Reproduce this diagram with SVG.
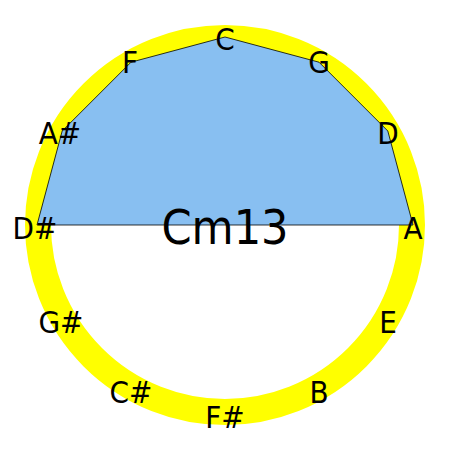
<svg xmlns="http://www.w3.org/2000/svg" width="450" height="450" viewBox="0 0 450 450">
<style>
.note{font-family:"DejaVu Sans Condensed","DejaVu Sans",sans-serif;font-stretch:condensed;font-size:31px;fill:#000;text-anchor:middle}
.title{font-family:"DejaVu Sans Condensed","DejaVu Sans",sans-serif;font-stretch:condensed;font-size:48px;fill:#000;text-anchor:middle}
</style>
<rect width="450" height="450" fill="#fff"/>
<circle id="ring" cx="225" cy="225" r="187" fill="none" stroke="#ffff00" stroke-width="26"/>
<g id="connectors">
<polygon points="225,37 319,62.2 387.8,131 413,225 37,225 62.2,131 131,62.2" fill="#88bff1" stroke="#000" stroke-width="0.8"/>
</g>
<text id="chord" class="title" x="225" y="244">Cm13</text>
<g id="nodes">
<g id="n-C"><text class="note" x="225" y="50">C</text></g>
<g id="n-G"><text class="note" x="319" y="73">G</text></g>
<g id="n-D"><text class="note" x="388" y="144">D</text></g>
<g id="n-A"><text class="note" x="413" y="239">A</text></g>
<g id="n-E"><text class="note" x="388" y="333">E</text></g>
<g id="n-B"><text class="note" x="319" y="403">B</text></g>
<g id="n-Fs"><text class="note" x="225" y="428">F#</text></g>
<g id="n-Cs"><text class="note" x="131" y="403">C#</text></g>
<g id="n-Gs"><text class="note" x="61" y="333">G#</text></g>
<g id="n-Ds"><text class="note" x="35" y="239">D#</text></g>
<g id="n-As"><text class="note" x="60" y="144">A#</text></g>
<g id="n-F"><text class="note" x="130" y="73">F</text></g>
</g>
</svg>
